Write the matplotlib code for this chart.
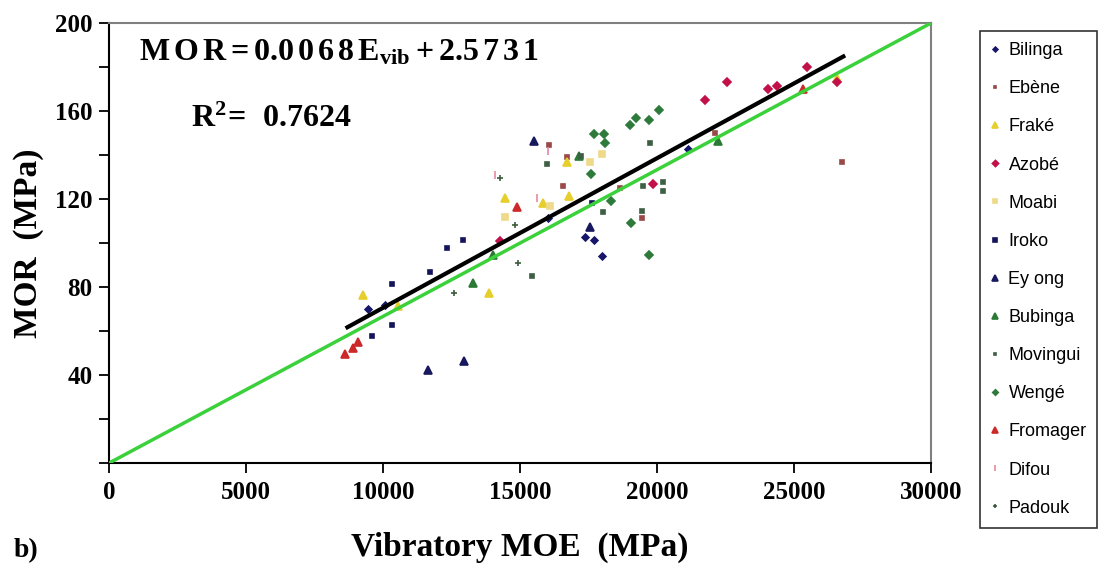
import numpy as np
import matplotlib.pyplot as plt
from matplotlib.ticker import MultipleLocator

plt.rcParams['mathtext.fontset'] = 'custom'
plt.rcParams['mathtext.bf'] = 'Liberation Serif:bold'
plt.rcParams['mathtext.rm'] = 'Liberation Serif'

# Vibratory MOE (MPa) and MOR (MPa) per species
bilinga_x = [10070, 9450, 16020, 17700, 17370, 18000, 21130]
bilinga_y = [71.8, 70.0, 111.4, 101.4, 102.7, 94.0, 142.7]

ebene_x = [16060, 16720, 16570, 19450, 26750, 18650, 22120]
ebene_y = [144.5, 139.0, 126.0, 111.4, 136.8, 125.0, 150.0]

frake_x = [9270, 13870, 16720, 14450, 15840, 16790, 10550, 26570]
frake_y = [76.4, 77.3, 136.8, 120.5, 118.2, 121.4, 71.4, 175.0]

azobe_x = [21750, 22560, 24050, 24380, 25480, 26570, 19860, 14270]
azobe_y = [165.0, 173.2, 170.0, 171.4, 180.0, 173.2, 126.8, 101.0]

moabi_x = [17560, 17990, 14450, 16100]
moabi_y = [136.8, 140.5, 111.8, 117.0]

iroko_x = [12920, 12340, 11720, 10330, 10330, 9600, 17630]
iroko_y = [101.4, 97.7, 86.8, 81.4, 62.7, 57.7, 118.2]

eyong_x = [15510, 11640, 12960, 17560]
eyong_y = [146.4, 42.3, 46.4, 107.3]

bubinga_x = [14020, 13290, 17150, 22230]
bubinga_y = [94.5, 81.8, 139.5, 146.4]

movingui_x = [15990, 19750, 17230, 19490, 20220, 20220, 18030, 15440, 19450]
movingui_y = [135.9, 145.5, 139.5, 126.0, 127.7, 123.6, 114.0, 85.0, 114.5]

wenge_x = [20080, 19240, 19710, 19020, 17700, 18070, 18100, 17590, 18320, 19710, 19050]
wenge_y = [160.5, 156.8, 155.9, 153.6, 149.5, 149.5, 145.5, 131.4, 119.0, 94.5, 109.0]

fromager_x = [9090, 8900, 8610, 25330, 14890]
fromager_y = [55.0, 52.3, 49.5, 170.0, 116.4]

difou_x = [15620, 16020, 14090]
difou_y = [120.5, 142.0, 131.0]

padouk_x = [14930, 12590, 14270, 14820]
padouk_y = [90.9, 77.3, 129.5, 108.0]

# regression line and reference line end points
reg_x = [8700, 26800]
reg_y = [0.0068 * v + 2.5731 for v in reg_x]
ref_x = [0, 30000]
ref_y = [0, 200]

species = [
    ('Bilinga', bilinga_x, bilinga_y, '#16166a', 'D', 3.5),
    ('Ebène', ebene_x, ebene_y, '#9a4848', 's', 3),
    ('Fraké', frake_x, frake_y, '#e6cf2a', '^', 5.5),
    ('Azobé', azobe_x, azobe_y, '#c21048', 'D', 4.5),
    ('Moabi', moabi_x, moabi_y, '#efd98a', 's', 4),
    ('Iroko', iroko_x, iroko_y, '#14145a', 's', 3.5),
    ('Ey ong', eyong_x, eyong_y, '#18185e', '^', 5.5),
    ('Bubinga', bubinga_x, bubinga_y, '#2a7a36', '^', 5.5),
    ('Movingui', movingui_x, movingui_y, '#3f5f45', 's', 3),
    ('Wengé', wenge_x, wenge_y, '#2e7a3a', 'D', 4),
    ('Fromager', fromager_x, fromager_y, '#cc2a2a', '^', 5.5),
    ('Difou', difou_x, difou_y, '#e58aa0', '|', 6),
    ('Padouk', padouk_x, padouk_y, '#3c5c3c', '+', 5),
]

fig = plt.figure(figsize=(11.17, 5.71), dpi=100)
ax = fig.add_axes([0.0976, 0.189, 0.7359, 0.7706])

for name, xs, ys, col, mk, ms in species:
    ax.plot(xs, ys, linestyle='none', marker=mk, color=col, markersize=ms,
            markeredgewidth=1.2, label=name)

ax.plot(ref_x, ref_y, color='#3ad13a', linewidth=2.5, zorder=3)
ax.plot(reg_x, reg_y, color='black', linewidth=3, zorder=4)

ax.set_xlim(0, 30000)
ax.set_ylim(0, 200)
ax.xaxis.set_major_locator(MultipleLocator(5000))
ax.yaxis.set_minor_locator(MultipleLocator(20))
ytl = [str(int(v)) if v > 0 else '' for v in np.arange(0, 201, 40)]
ax.set_yticks(np.arange(0, 201, 40))
ax.set_yticklabels(ytl)

ax.tick_params(axis='both', which='both', direction='out', length=7, width=1.3,
               labelsize=18)
ax.tick_params(axis='x', pad=6)
ax.tick_params(axis='y', pad=5)
for lab in ax.get_xticklabels() + ax.get_yticklabels():
    lab.set_fontfamily('Liberation Serif')
    lab.set_fontweight('bold')

for s in ['left', 'bottom']:
    ax.spines[s].set_color('black')
    ax.spines[s].set_linewidth(1.5)
for s in ['top', 'right']:
    ax.spines[s].set_color('#808080')
    ax.spines[s].set_linewidth(1.5)

ax.set_xlabel('Vibratory MOE  (MPa)', fontfamily='Liberation Serif',
              fontweight='bold', fontsize=24, labelpad=20)
ax.set_ylabel('MOR  (MPa)', fontfamily='Liberation Serif',
              fontweight='bold', fontsize=24, labelpad=8)

gap = r'\hspace{0.13}'
eq = (r'$\mathbf{' + gap.join(['M', 'O', 'R']) + r'\!' + gap + '=' + gap + r'\!'
      + gap.join(['0.0', '0', '6', '8', 'E'])
      + r'_{vib}\!' + gap + '+' + gap + r'\!' + gap.join(['2.5', '7', '3', '1']) + '}$')
ax.text(0.036, 0.935, eq, transform=ax.transAxes,
        fontsize=23, va='center', ha='left')
ax.text(0.1, 0.784, r'$\mathbf{R^{2}\!=\ 0.7624}$', transform=ax.transAxes,
        fontsize=23, va='center', ha='left')

fig.text(0.012, 0.025, 'b)', fontfamily='Liberation Serif', fontweight='bold',
         fontsize=20)

leg = fig.legend(loc='upper left', bbox_to_anchor=(0.877, 0.945), frameon=True,
                 fancybox=False, edgecolor='black', prop={'family': 'Liberation Sans', 'size': 13},
                 labelspacing=1.17, handlelength=0.5, handletextpad=0.5,
                 borderpad=0.6, borderaxespad=0.0, markerscale=0.7)
leg.get_frame().set_linewidth(1.2)

fig.savefig('out.png', dpi=100)
